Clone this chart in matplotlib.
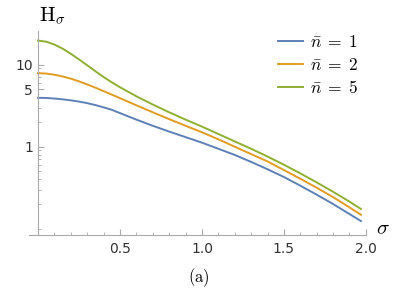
import numpy as np
import matplotlib
matplotlib.use("Agg")
from matplotlib import pyplot as plt
from matplotlib.ticker import FixedLocator, NullFormatter

plt.rcParams["mathtext.fontset"] = "cm"

sigma = [0.0, 0.05, 0.1, 0.15, 0.2, 0.25, 0.3, 0.35, 0.4, 0.45, 0.5,
         0.6, 0.7, 0.8, 0.9, 1.0, 1.1, 1.2, 1.3, 1.4, 1.5,
         1.6, 1.7, 1.8, 1.9, 1.97]
h_n1 = [3.95, 3.93, 3.87, 3.78, 3.68, 3.55, 3.40, 3.22, 3.02, 2.82, 2.57,
        2.14, 1.80, 1.53, 1.31, 1.12, 0.944, 0.794, 0.653, 0.531, 0.427,
        0.335, 0.260, 0.200, 0.151, 0.124]
h_n2 = [7.89, 7.80, 7.55, 7.19, 6.76, 6.27, 5.75, 5.25, 4.76, 4.32, 3.91,
        3.20, 2.63, 2.17, 1.80, 1.50, 1.23, 1.00, 0.813, 0.661, 0.519,
        0.407, 0.316, 0.243, 0.182, 0.148]
h_n5 = [19.7, 19.1, 17.6, 15.7, 13.6, 11.6, 9.84, 8.32, 7.08, 6.10, 5.31,
        4.12, 3.27, 2.63, 2.14, 1.76, 1.43, 1.16, 0.944, 0.759, 0.603,
        0.473, 0.367, 0.282, 0.214, 0.174]
labels = [r"$\bar{n}\;=\;1$", r"$\bar{n}\;=\;2$", r"$\bar{n}\;=\;5$"]
colors = ["#5E81B5", "#E19C24", "#8FB032"]

y_major = [1, 5, 10]
y_minor = [0.1, 0.2, 0.3, 0.4, 0.5, 0.6, 0.7, 0.8, 0.9,
           2, 3, 4, 6, 7, 8, 9, 20]
x_major = [0.5, 1.0, 1.5, 2.0]
x_minor = [0.1, 0.2, 0.3, 0.4, 0.6, 0.7, 0.8, 0.9,
           1.1, 1.2, 1.3, 1.4, 1.6, 1.7, 1.8, 1.9]

fig = plt.figure(figsize=(3.99, 2.88), dpi=100)
ax = fig.add_axes([0.0727, 0.184, 0.917 - 0.0727, 0.892 - 0.184])

for ys, lab, c in zip([h_n1, h_n2, h_n5], labels, colors):
    ax.plot(sigma, ys, color=c, lw=1.4, label=lab)

ax.set_yscale("log")
ax.set_xlim(-0.055, 2.0)
ax.set_ylim(0.0838, 25.7)

axis_col = "#aaaaaa"
ax.spines["top"].set_visible(False)
ax.spines["right"].set_visible(False)
ax.spines["left"].set_position(("data", 0))
ax.spines["left"].set_color(axis_col)
ax.spines["bottom"].set_color(axis_col)

ax.yaxis.set_major_locator(FixedLocator(y_major))
ax.yaxis.set_minor_locator(FixedLocator(y_minor))
ax.yaxis.set_minor_formatter(NullFormatter())
ax.set_yticklabels(["1", "5", "10"])
ax.xaxis.set_major_locator(FixedLocator(x_major))
ax.xaxis.set_minor_locator(FixedLocator(x_minor))
ax.set_xticklabels(["0.5", "1.0", "1.5", "2.0"])

ax.tick_params(which="major", direction="in", length=4, width=0.8,
               color=axis_col, labelsize=10, labelcolor="#333333")
ax.tick_params(which="minor", direction="in", length=2.2, width=0.6,
               color=axis_col)
ax.tick_params(axis="x", pad=5)

fig.text(52 / 399, 1 - 16 / 288, r"$\mathrm{H}_\sigma$", fontsize=15,
         ha="center", va="center")
fig.text(383 / 399, 1 - 228 / 288, r"$\sigma$", fontsize=15,
         ha="center", va="center")
fig.text(199 / 399, 1 - 278 / 288, r"$\mathrm{(a)}$", fontsize=12,
         ha="center", va="center")

ax.legend(loc="upper left", bbox_to_anchor=(278 / 399, 1 - 33 / 288),
          bbox_transform=fig.transFigure, frameon=False, fontsize=12.5,
          handlelength=1.45, handletextpad=0.4, labelspacing=0.3,
          borderaxespad=0, borderpad=0)

fig.savefig("out.png", dpi=100)
